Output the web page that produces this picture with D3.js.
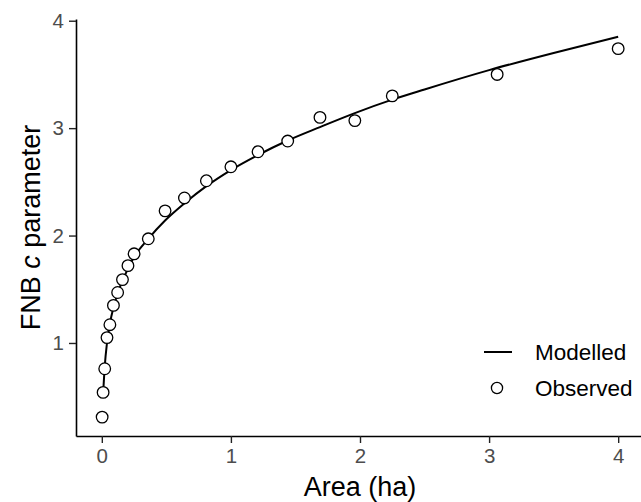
<!DOCTYPE html>
<html>
<head>
<meta charset="utf-8">
<script src="https://cdn.jsdelivr.net/npm/d3@7"></script>
<style>
  body { margin: 0; background: #fff; }
  svg text { font-family: "Liberation Sans", Arial, sans-serif; }
</style>
</head>
<body>
<div id="chart"></div>
<script>
// Observed values (area in ha, FNB c parameter)
var obsArea = [0.0025, 0.01, 0.0225, 0.04, 0.0625, 0.09, 0.1225, 0.16, 0.2025, 0.25,
  0.36, 0.49, 0.64, 0.81, 1.0, 1.21, 1.44, 1.69, 1.96, 2.25, 3.0625, 4.0];
var obsC = [0.31, 0.54, 0.76, 1.05, 1.17, 1.35, 1.47, 1.59, 1.72, 1.83,
  1.97, 2.23, 2.35, 2.51, 2.64, 2.78, 2.88, 3.10, 3.07, 3.30, 3.50, 3.74];

// Modelled curve
var modArea = [0.01, 0.0225, 0.04, 0.0625, 0.09, 0.1225, 0.16, 0.2025, 0.25, 0.36,
  0.49, 0.64, 0.81, 1.0, 1.21, 1.44, 1.69, 1.96, 2.25, 2.5, 3.0, 3.5, 4.0];
var modC = [0.52, 0.78, 1.0, 1.18, 1.33, 1.46, 1.58, 1.69, 1.80, 1.97,
  2.14, 2.30, 2.46, 2.61, 2.75, 2.885, 3.01, 3.14, 3.265, 3.36, 3.54, 3.70, 3.85];

var xTicks = [0, 1, 2, 3, 4];
var yTicks = [1, 2, 3, 4];
var legendLabels = ["Modelled", "Observed"];

var svgWidth = 641;
var svgHeight = 502;

var svg = d3.select("#chart")
  .append("svg")
  .attr("width", svgWidth)
  .attr("height", svgHeight);

// panel edges in pixels
var panel = { left: 76, right: 644, top: 19, bottom: 436 };

var xScale = d3.scaleLinear()
  .domain([-0.2, 4.2])
  .range([panel.left, panel.right]);

var yScale = d3.scaleLinear()
  .domain([0.134, 4.016])
  .range([panel.bottom, panel.top]);

// axes
var xAxis = svg.append("g")
  .attr("transform", `translate(0, ${panel.bottom})`)
  .call(d3.axisBottom(xScale).tickValues(xTicks).tickSize(7).tickSizeOuter(0)
    .tickPadding(5).tickFormat(d3.format("d")));

var yAxis = svg.append("g")
  .attr("transform", `translate(${panel.left}, 0)`)
  .call(d3.axisLeft(yScale).tickValues(yTicks).tickSize(7).tickSizeOuter(0)
    .tickPadding(5).tickFormat(d3.format("d")));

[xAxis, yAxis].forEach(function (ax) {
  ax.select(".domain").attr("stroke", "#000").attr("stroke-width", 1.6);
  ax.selectAll(".tick line").attr("stroke", "#222").attr("stroke-width", 1.4);
  ax.selectAll(".tick text")
    .attr("fill", "#4d4d4d")
    .style("font-size", "20.5px");
});

// axis titles
svg.append("text")
  .attr("x", xScale(2))
  .attr("y", 496)
  .attr("text-anchor", "middle")
  .style("font-size", "27px")
  .text("Area (ha)");

var yTitle = svg.append("text")
  .attr("transform", `translate(40, ${(panel.top + panel.bottom) / 2}) rotate(-90)`)
  .attr("text-anchor", "middle")
  .style("font-size", "27px");
yTitle.append("tspan").text("FNB ");
yTitle.append("tspan").style("font-style", "italic").text("c");
yTitle.append("tspan").text(" parameter");

// modelled line
var modData = modArea.map(function (a, i) { return { a: a, c: modC[i] }; });
var line = d3.line()
  .x(d => xScale(d.a))
  .y(d => yScale(d.c))
  .curve(d3.curveMonotoneX);

svg.append("path")
  .datum(modData)
  .attr("d", line)
  .attr("fill", "none")
  .attr("stroke", "#000")
  .attr("stroke-width", 2);

// observed points
var obsData = obsArea.map(function (a, i) { return { a: a, c: obsC[i] }; });
svg.selectAll("circle.obs")
  .data(obsData)
  .enter()
  .append("circle")
  .attr("class", "obs")
  .attr("cx", d => xScale(d.a))
  .attr("cy", d => yScale(d.c))
  .attr("r", 5.8)
  .attr("fill", "#fff")
  .attr("stroke", "#000")
  .attr("stroke-width", 1.3);

// legend
var legend = svg.append("g");
legend.append("line")
  .attr("x1", 484).attr("x2", 512)
  .attr("y1", 352).attr("y2", 352)
  .attr("stroke", "#000")
  .attr("stroke-width", 2);
legend.append("circle")
  .attr("cx", 497).attr("cy", 388)
  .attr("r", 5.6)
  .attr("fill", "#fff")
  .attr("stroke", "#000")
  .attr("stroke-width", 1.3);
legend.selectAll("text.leg")
  .data(legendLabels)
  .enter()
  .append("text")
  .attr("class", "leg")
  .attr("x", 535)
  .attr("y", (d, i) => 352 + i * 36)
  .attr("dy", "0.35em")
  .style("font-size", "22.5px")
  .text(d => d);
</script>
</body>
</html>
